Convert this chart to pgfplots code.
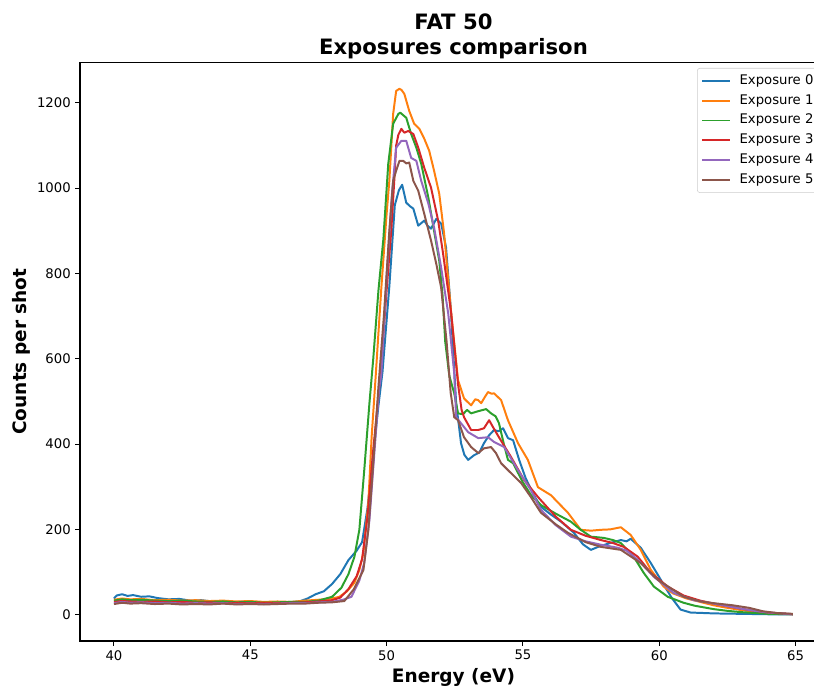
\documentclass[border=0pt]{standalone}
\usepackage{fontspec}
\setmainfont{DejaVu Sans}
\usepackage{pgfplots}
\pgfplotsset{compat=1.18}
\usepackage{pgfplotstable}
\definecolor{c0}{HTML}{1F77B4}
\definecolor{c1}{HTML}{FF7F0E}
\definecolor{c2}{HTML}{2CA02C}
\definecolor{c3}{HTML}{D62728}
\definecolor{c4}{HTML}{9467BD}
\definecolor{c5}{HTML}{8C564B}

\pgfplotstableread{
x y
40.0 38
40.1 45
40.3 48
40.5 44
40.7 46
41.0 42
41.3 43
41.6 39
42.0 36
42.4 37
42.8 33
43.2 34
43.6 31
44.0 32
44.4 29
44.8 31
45.2 28
45.6 28
46.0 27
46.4 29
46.8 31
47.1 38
47.4 48
47.7 55
48.0 72
48.3 95
48.6 128
48.9 150
49.1 170
49.3 250
49.5 370
49.7 490
49.85 570
50.1 770
50.3 960
50.45 995
50.57 1008
50.72 966
50.85 958
50.98 952
51.16 912
51.38 924
51.5 912
51.63 905
51.82 928
52.0 917
52.18 861
52.35 720
52.55 496
52.73 402
52.85 375
52.99 363
53.21 374
53.4 380
53.57 402
53.75 420
53.94 433
54.1 430
54.27 437
54.45 414
54.64 409
54.86 363
55.1 320
55.4 280
55.66 253
56.0 236
56.4 218
56.87 192
57.2 165
57.49 152
57.8 160
58.2 168
58.59 175
58.8 172
58.95 178
59.32 157
59.69 121
60.12 75
60.45 40
60.78 12
61.15 5
61.6 4
62.0 3
63.0 2
64.0 1
64.9 1
}\expzero

\pgfplotstableread{
x y
40.0 35
40.3 38
40.6 36
41.0 37
41.5 34
42.0 35
42.5 33
43.0 34
43.5 32
44.0 33
44.5 31
45.0 32
45.5 30
46.0 31
46.5 30
47.0 33
47.5 35
48.0 38
48.27 42
48.55 55
48.82 75
49.0 105
49.15 145
49.33 262
49.45 416
49.6 560
49.8 760
50.0 940
50.1 1017
50.24 1174
50.35 1228
50.47 1233
50.55 1230
50.65 1221
50.83 1181
51.01 1151
51.2 1139
51.38 1116
51.56 1088
51.74 1041
51.93 987
52.11 893
52.37 706
52.62 550
52.84 507
52.95 500
53.1 491
53.25 505
53.36 503
53.47 496
53.6 510
53.72 522
53.85 518
53.94 519
54.2 503
54.45 456
54.82 402
55.18 363
55.55 299
56.03 280
56.3 262
56.65 239
57.12 199
57.5 197
57.86 199
58.2 200
58.59 205
58.95 187
59.32 152
59.69 105
60.16 66
60.5 50
61.0 38
61.5 30
62.0 22
62.5 16
63.0 11
63.5 7
64.0 4
64.5 2
64.9 1
}\expone

\pgfplotstableread{
x y
40.0 33
40.3 36
40.6 34
41.0 35
41.5 33
42.0 32
42.5 33
43.0 31
43.5 30
44.0 31
44.5 29
45.0 30
45.5 28
46.0 29
46.5 30
47.0 30
47.5 33
48.0 42
48.34 63
48.6 95
48.82 136
49.0 199
49.18 339
49.37 496
49.51 600
49.7 760
49.88 880
50.06 1057
50.24 1151
50.43 1174
50.5 1177
50.72 1165
50.9 1127
51.09 1095
51.27 1057
51.53 978
51.74 900
51.93 830
52.05 750
52.15 640
52.3 560
52.48 519
52.62 472
52.8 470
52.95 480
53.1 472
53.3 476
53.47 479
53.65 482
53.83 472
54.0 465
54.12 449
54.3 400
54.45 363
54.64 355
55.0 310
55.3 280
55.66 257
56.2 237
56.76 218
57.1 200
57.49 183
57.97 180
58.3 175
58.59 168
59.06 136
59.43 98
59.8 66
60.31 42
60.89 28
61.3 21
62.0 13
62.5 9
63.0 6
63.5 4
64.0 2
64.9 1
}\exptwo

\pgfplotstableread{
x y
40.0 30
40.3 32
40.6 31
41.0 30
41.5 31
42.0 29
42.5 30
43.0 28
43.5 29
44.0 27
44.5 28
45.0 27
45.5 28
46.0 27
46.5 28
47.0 29
47.5 31
48.0 34
48.3 40
48.6 60
48.9 90
49.1 130
49.3 230
49.5 380
49.77 560
50.0 760
50.17 900
50.28 1017
50.35 1100
50.43 1125
50.54 1139
50.65 1130
50.79 1134
50.98 1127
51.16 1095
51.38 1048
51.63 1001
51.89 924
52.07 847
52.37 706
52.62 540
52.75 480
52.84 463
53.1 433
53.36 433
53.57 437
53.76 456
53.9 440
54.12 416
54.56 370
55.04 316
55.55 276
56.2 230
56.76 199
57.3 185
57.86 175
58.3 168
58.7 159
59.21 136
59.69 98
60.31 66
60.89 45
61.5 33
62.0 26
62.5 20
63.0 14
63.5 9
64.0 5
64.5 3
64.9 1
}\expthree

\pgfplotstableread{
x y
40.0 27
40.3 30
40.6 28
41.0 29
41.5 27
42.0 28
42.5 26
43.0 27
43.5 26
44.0 27
44.5 25
45.0 26
45.5 25
46.0 26
46.5 27
47.0 27
47.5 29
48.0 30
48.4 35
48.71 42
49.0 80
49.18 122
49.37 222
49.55 379
49.73 534
49.8 560
50.0 790
50.2 990
50.35 1095
50.54 1111
50.72 1111
50.9 1071
51.09 1064
51.27 1017
51.53 964
51.74 908
52.0 814
52.26 706
52.48 566
52.55 463
52.99 428
53.36 414
53.72 416
53.94 405
54.31 393
54.82 339
55.29 292
55.66 246
56.2 210
56.76 183
57.3 172
57.86 164
58.48 157
58.8 150
59.21 129
59.8 89
60.53 51
61.26 34
62.0 26
62.5 20
63.0 14
63.5 9
64.0 5
64.5 3
64.9 1
}\expfour

\pgfplotstableread{
x y
40.0 25
40.3 28
40.6 26
41.0 27
41.5 25
42.0 26
42.5 24
43.0 25
43.5 24
44.0 26
44.5 24
45.0 25
45.5 24
46.0 25
46.5 26
47.0 26
47.5 28
48.0 29
48.45 32
48.8 60
49.15 105
49.33 199
49.51 356
49.7 534
49.9 700
50.1 900
50.24 1017
50.35 1041
50.47 1064
50.61 1064
50.72 1058
50.83 1060
50.98 1017
51.16 994
51.38 940
51.63 877
51.82 823
52.0 767
52.2 640
52.35 520
52.48 463
52.62 456
52.84 416
53.1 393
53.36 379
53.57 390
53.83 393
54.01 379
54.2 355
54.45 339
54.93 309
55.29 276
55.66 239
56.2 212
56.65 192
57.3 170
57.86 159
58.59 152
59.32 121
59.94 82
60.9 42
61.52 31
62.0 27
62.7 22
63.3 16
63.8 8
64.3 4
64.9 2
}\expfive

\begin{document}
\begin{tikzpicture}
\begin{axis}[
  scale only axis,
  width=564.7pt, height=437.7pt,
  xmin=38.755, xmax=66.15,
  ymin=-61.7, ymax=1295.7,
  xtick={40,45,50,55,60,65},
  ytick={0,200,400,600,800,1000,1200},
  scaled ticks=false,
  /pgf/number format/assume math mode=true,
  /pgf/number format/1000 sep={},
  tick label style={font=\fontsize{10}{12}\selectfont},
  tick align=outside,
  major tick length=3.5pt,
  tick style={black, line width=0.8pt},
  xtick pos=bottom, ytick pos=left,
  axis line style={black, line width=0.8pt},
  xlabel={Energy (eV)},
  ylabel={Counts per shot},
  xlabel style={at={(axis description cs:0.5,0)}, anchor=center, yshift=-27.2pt, font=\bfseries\fontsize{14}{16.8}\selectfont},
  ylabel style={at={(axis description cs:-0.079,0.5)}, anchor=center, font=\bfseries\fontsize{14}{16.8}\selectfont},
  title={FAT 50\\Exposures comparison},
  title style={at={(axis description cs:0.5,1)}, anchor=south, yshift=-3.8pt, inner sep=0pt, align=center, font=\bfseries\fontsize{16}{19.2}\selectfont},
  legend style={at={(axis description cs:1,1)}, anchor=north east, xshift=-5pt, yshift=-4.5pt,
    draw=black!20, rounded corners=2pt, font=\fontsize{10}{12}\selectfont,
    inner xsep=3pt, inner ysep=2pt, row sep=0pt,
    nodes={text height=7.6pt, text depth=2.4pt, inner ysep=2.5pt},
    /tikz/every odd column/.append style={column sep=4.5pt}},
  legend cell align=left,
  legend image code/.code={\draw[#1, line width=1.5pt] (0pt,0pt) -- (21pt,0pt);},
  every axis plot/.append style={line width=1.5pt, line join=round},
]
\addplot[c0, no markers] table[x=x,y=y] {\expzero};
\addlegendentry{Exposure 0}
\addplot[c1, no markers] table[x=x,y=y] {\expone};
\addlegendentry{Exposure 1}
\addplot[c2, no markers] table[x=x,y=y] {\exptwo};
\addlegendentry{Exposure 2}
\addplot[c3, no markers] table[x=x,y=y] {\expthree};
\addlegendentry{Exposure 3}
\addplot[c4, no markers] table[x=x,y=y] {\expfour};
\addlegendentry{Exposure 4}
\addplot[c5, no markers] table[x=x,y=y] {\expfive};
\addlegendentry{Exposure 5}
\end{axis}
\pgfresetboundingbox
\useasboundingbox ([xshift=-60.48pt,yshift=-34.78pt]current axis.south west) rectangle ([xshift=554.9pt,yshift=484.6pt]current axis.south west);
\end{tikzpicture}
\end{document}
